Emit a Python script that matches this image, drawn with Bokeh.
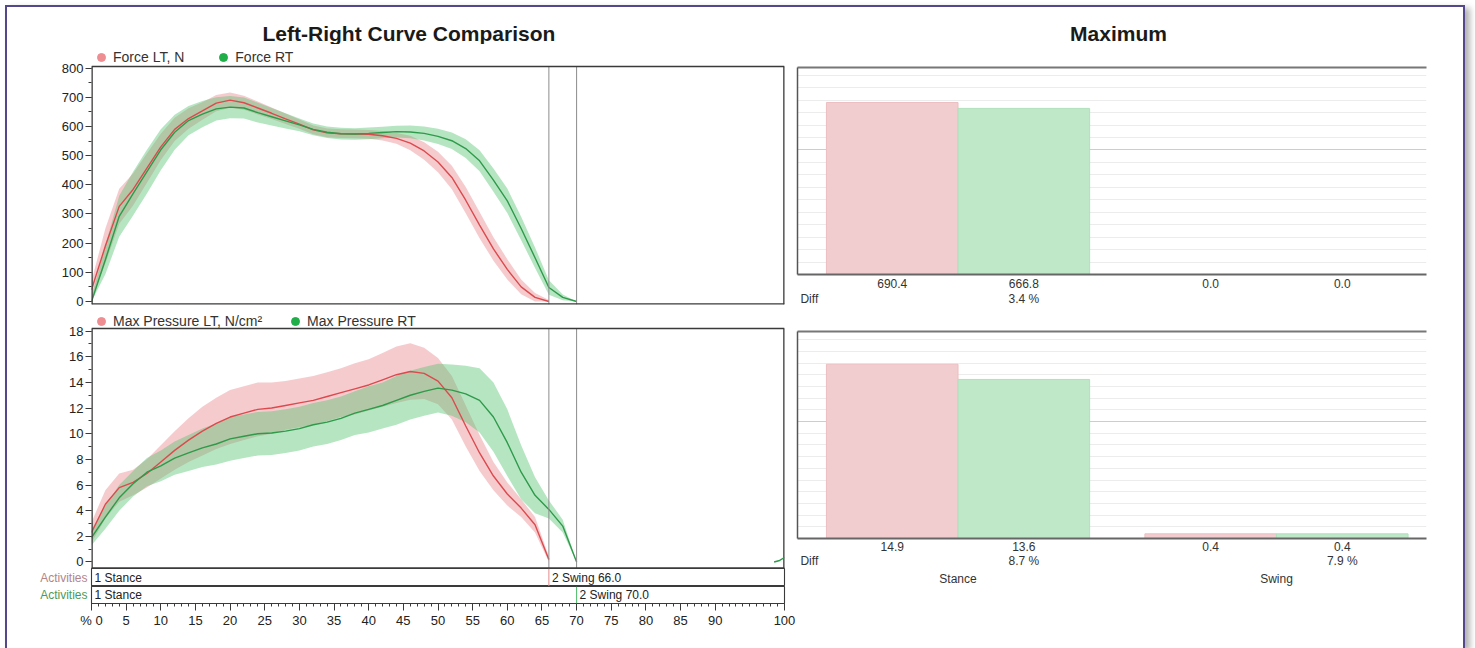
from bokeh.plotting import figure
from bokeh.layouts import row, column
from bokeh.models import Range1d, FixedTicker, Span, Label, Legend, LegendItem, LinearAxis, Grid
from bokeh.embed import file_html
from bokeh.resources import INLINE

FONT = "Liberation Sans"

# ---------------- data ----------------
pct = list(range(0, 71, 2))  # % of step, 0..70

force_lt = [40, 190, 326, 384, 457, 530, 590, 627, 653, 680, 690, 681, 663, 645, 626, 608, 588,
            578, 575, 574, 573, 568, 559, 543, 516, 478, 425, 347, 262, 180, 110, 50, 14, 0]
force_lt_sd = [30, 60, 60, 55, 50, 45, 40, 35, 30, 28, 26, 24, 22, 20, 18, 16, 15, 15, 15, 15, 15,
               16, 18, 25, 30, 35, 40, 45, 45, 40, 35, 25, 15, 5]
force_rt = [0, 143, 292, 370, 445, 520, 580, 620, 642, 660, 666, 663, 647, 633, 619, 605, 590, 580,
            575, 574, 576, 579, 582, 581, 576, 566, 551, 524, 482, 416, 345, 250, 150, 48, 14, 0]
force_rt_sd = [15, 50, 70, 75, 75, 70, 60, 50, 45, 40, 38, 36, 34, 30, 26, 22, 20, 20, 20, 20, 20,
               20, 20, 22, 24, 26, 28, 32, 36, 40, 42, 40, 35, 25, 10, 0]

press_lt = [2.3, 4.5, 5.8, 6.2, 6.9, 7.8, 8.7, 9.5, 10.2, 10.8, 11.3, 11.6, 11.9, 12.0, 12.2, 12.4,
            12.6, 12.9, 13.2, 13.5, 13.8, 14.2, 14.6, 14.85, 14.7, 14.1, 12.8, 10.6, 8.5, 6.7, 5.3,
            4.2, 2.9, 0.2]
press_lt_sd = [0.8, 1.1, 1.1, 1.0, 1.1, 1.3, 1.5, 1.7, 1.9, 2.0, 2.1, 2.1, 2.1, 2.0, 1.9, 1.9, 1.9,
               1.9, 1.9, 2.0, 2.0, 2.1, 2.2, 2.2, 2.0, 1.8, 1.7, 1.6, 1.4, 1.1, 0.9, 0.7, 0.6, 0.2]
press_rt = [1.9, 3.5, 5.0, 6.1, 7.0, 7.5, 8.1, 8.5, 8.9, 9.2, 9.6, 9.8, 10.0, 10.05, 10.2, 10.4,
            10.7, 10.9, 11.2, 11.6, 11.9, 12.2, 12.6, 13.0, 13.3, 13.55, 13.4, 13.1, 12.6, 11.3,
            9.3, 7.0, 5.2, 4.1, 2.8, 0.0]
press_rt_sd = [0.6, 0.9, 1.0, 1.0, 1.1, 1.2, 1.3, 1.4, 1.5, 1.6, 1.7, 1.7, 1.7, 1.7, 1.7, 1.7, 1.7,
               1.7, 1.7, 1.7, 1.8, 1.8, 1.9, 1.9, 1.9, 1.9, 2.0, 2.2, 2.5, 2.7, 2.6, 2.1, 1.4, 0.7,
               0.5, 0.0]
# start of the next right step, visible at the right edge
rt_next_x = [98.5, 99.3, 100.0]
rt_next_p = [0.0, 0.12, 0.35]

lt_phase_names = ["1 Stance", "2 Swing"]
lt_phase_start = [0.0, 66.0]
rt_phase_names = ["1 Stance", "2 Swing"]
rt_phase_start = [0.0, 70.0]

force_ticks = [0, 100, 200, 300, 400, 500, 600, 700, 800]
force_minor = [0, 50, 100, 150, 200, 250, 300, 350, 400, 450, 500, 550, 600, 650, 700, 750, 800]
press_ticks = [0, 2, 4, 6, 8, 10, 12, 14, 16, 18]
press_minor = list(range(0, 19))
x_ticks = [0, 5, 10, 15, 20, 25, 30, 35, 40, 45, 50, 55, 60, 65, 70, 75, 80, 85, 90, 100]
x_minor = list(range(0, 101))

bar_groups = ["Stance", "Swing"]
force_max_lt = [690.4, 0.0]
force_max_rt = [666.8, 0.0]
force_diff = [3.4, None]
press_max_lt = [14.9, 0.4]
press_max_rt = [13.6, 0.4]
press_diff = [8.7, 7.9]

# ---------------- style ----------------
PINK_LINE = "#dc4a4e"
GREEN_LINE = "#2e9a4a"
PINK_BAND = "#ee979d"
GREEN_BAND = "#50c06e"
PINK_DOT = "#ee8d92"
GREEN_DOT = "#1fae48"
PINK_BAR = "#f2cdcf"
GREEN_BAR = "#bfe8c8"
FRAME = "#3a3a3a"
VLINE = "#8c8c8c"
LEFT_W = 789
RIGHT_W = 667


def style_axis(ax):
    ax.major_label_text_font = FONT
    ax.major_label_text_font_size = "13px"
    ax.major_label_text_color = "#222222"
    ax.axis_line_color = FRAME
    ax.major_tick_line_color = FRAME
    ax.minor_tick_line_color = FRAME
    ax.major_tick_in = 0
    ax.minor_tick_in = 0


def make_legend(p, xs, ys, labels, spacing, location):
    r_lt = p.scatter(xs[0], ys[0], marker="circle", size=8, fill_color=PINK_DOT,
                     line_color=PINK_DOT, visible=False)
    r_rt = p.scatter(xs[1], ys[1], marker="circle", size=8, fill_color=GREEN_DOT,
                     line_color=GREEN_DOT, visible=False)
    return Legend(items=[LegendItem(label=labels[0], renderers=[r_lt]),
                         LegendItem(label=labels[1], renderers=[r_rt])],
                  orientation="horizontal", location=location, glyph_width=20,
                  glyph_height=20, label_height=20, label_standoff=2, spacing=spacing, padding=0,
                  margin=0, border_line_color=None, background_fill_alpha=0,
                  inactive_fill_alpha=0, click_policy="none", label_text_font=FONT,
                  label_text_font_size="14px", label_text_color="#333333")


def bands(p, xs, mean, sd, color, alpha):
    lo = [max(0.0, m - s) for m, s in zip(mean, sd)]
    hi = [m + s for m, s in zip(mean, sd)]
    p.varea(x=xs, y1=lo, y2=hi, fill_color=color, fill_alpha=alpha)


def header(width, height, mb_left, text, tx, ty, align):
    h = figure(width=width, height=height, x_range=Range1d(0, 1), y_range=Range1d(0, 1),
               x_axis_location=None, y_axis_location=None, output_backend="svg",
               toolbar_location=None, min_border_left=mb_left, min_border_right=0,
               min_border_top=0, min_border_bottom=0)
    h.grid.visible = False
    h.outline_line_color = None
    h.add_layout(Label(x=tx, y=ty, x_units="screen", y_units="screen", text=text,
                       text_align=align, text_baseline="middle", text_font=FONT,
                       text_font_size="21px", text_font_style="bold", text_color="#1a1a1a"))
    return h


def curve_panel(height, mb_bottom, y_lo, box_top, y_hi, ticks, minor, legend_labels, spacing,
                series):
    """Curve plot whose frame also holds the legend row above the boxed plot area."""
    p = figure(width=LEFT_W, height=height, x_range=Range1d(0, 100), y_range=Range1d(y_lo, y_hi),
               x_axis_location=None, output_backend="svg", toolbar_location=None,
               min_border_left=84, min_border_right=12, min_border_top=0,
               min_border_bottom=mb_bottom)
    p.grid.visible = False
    p.outline_line_color = None
    p.yaxis.ticker = FixedTicker(ticks=ticks, minor_ticks=minor)
    style_axis(p.yaxis[0])
    p.yaxis.axis_line_color = None
    p.yaxis.major_tick_out = 6
    p.yaxis.minor_tick_out = 3
    p.yaxis.major_label_standoff = 2
    (xl, ml, sl), (xr, mr, sr) = series
    bands(p, xl, ml, sl, PINK_BAND, 0.5)
    bands(p, xr, mr, sr, GREEN_BAND, 0.42)
    p.line(xl, ml, line_color=PINK_LINE, line_width=1.4)
    p.line(xr, mr, line_color=GREEN_LINE, line_width=1.4)
    # phase-change lines
    sw = [lt_phase_start[1], rt_phase_start[1]]
    p.segment(x0=sw, y0=[y_lo, y_lo], x1=sw, y1=[box_top, box_top], line_color=VLINE, line_width=1)
    # plot box
    p.add_layout(Span(location=box_top, dimension="width", line_color=FRAME, line_width=1.3))
    p.add_layout(Span(location=y_lo, dimension="width", line_color=FRAME, line_width=2.6))
    p.segment(x0=[0, 100], y0=[y_lo, y_lo], x1=[0, 100], y1=[box_top, box_top],
              line_color=FRAME, line_width=2.6)
    frame_h = height - mb_bottom
    p.add_layout(make_legend(p, (xl, xr), (ml, mr), legend_labels, spacing, (0, frame_h - 23)),
                 "center")
    return p


x_lt = pct[:len(force_lt)]
x_rt = pct[:len(force_rt)]

# ---------------- left header: title ----------------
h1 = header(LEFT_W, 37, 80, "Left-Right Curve Comparison", 171, 11, "left")

# ---------------- top-left: force ----------------
p1 = curve_panel(264, 4, -10.3, 805.3, 880.7, force_ticks, force_minor,
                 ["Force LT, N", "Force RT"], 29,
                 ((x_lt, force_lt, force_lt_sd), (x_rt, force_rt, force_rt_sd)))

# ---------------- bottom-left: max pressure ----------------
p2 = curve_panel(260, 0, -0.507, 18.2, 19.76, press_ticks, press_minor,
                 ["Max Pressure LT, N/cm²", "Max Pressure RT"], 23,
                 ((x_lt, press_lt, press_lt_sd), (x_rt, press_rt, press_rt_sd)))
p2.line(rt_next_x, rt_next_p, line_color=GREEN_LINE, line_width=1.4)


# ---------------- activity rows ----------------
def activity_row(height, mb_bottom, names, starts, label_color, mark_color):
    r = figure(width=LEFT_W, height=height, x_range=Range1d(0, 100), y_range=Range1d(-0.5, 0.5),
               x_axis_location=None, output_backend="svg", toolbar_location=None,
               min_border_left=84, min_border_right=12, min_border_top=0,
               min_border_bottom=mb_bottom)
    r.grid.visible = False
    r.outline_line_color = FRAME
    r.outline_line_width = 1.1
    r.yaxis.ticker = FixedTicker(ticks=[0])
    r.yaxis.major_label_overrides = {0: "Activities"}
    style_axis(r.yaxis[0])
    r.yaxis.major_label_text_font_size = "12px"
    r.yaxis.major_label_text_color = label_color
    r.yaxis.major_tick_out = 0
    r.yaxis.major_tick_line_color = None
    r.yaxis.major_label_standoff = 4
    r.add_layout(Span(location=starts[1], dimension="height", line_color=mark_color, line_width=1))
    for name, start in zip(names, starts):
        txt = name if start == 0 else f"{name} {start:.1f}"
        r.add_layout(Label(x=start, y=0, x_offset=3, text=txt, text_align="left",
                           text_baseline="middle", text_font=FONT, text_font_size="12px",
                           text_color="#222222"))
    return r


r1 = activity_row(18, 0, lt_phase_names, lt_phase_start, "#b58486", "#e58a8c")
r2 = activity_row(62, 45, rt_phase_names, rt_phase_start, "#4b9a5a", "#4cbb66")
r2.add_layout(LinearAxis(), "below")
r2.xaxis.ticker = FixedTicker(ticks=x_ticks, minor_ticks=x_minor)
style_axis(r2.xaxis[0])
r2.xaxis.major_tick_out = 7
r2.xaxis.minor_tick_out = 3
r2.xaxis.major_label_standoff = 2
r2.xaxis.major_label_overrides = {0: "% 0"}

# ---------------- right: maximum bars ----------------
BAR_W = 100
GAP = 42
DIFF_X = -13


def plain_axis(ticks, labels, standoff, line_color=None, line_width=1.0):
    return LinearAxis(ticker=FixedTicker(ticks=ticks),
                      major_label_overrides=dict(zip(ticks, labels)),
                      major_tick_out=0, major_tick_in=0, minor_tick_out=0, minor_tick_in=0,
                      major_tick_line_color=None, minor_tick_line_color=None,
                      major_label_standoff=standoff, axis_line_color=line_color,
                      axis_line_width=line_width, major_label_text_font=FONT,
                      major_label_text_font_size="12px", major_label_text_color="#333333")


def bar_chart(height, y_end, mb_top, mb_bottom, lt_vals, rt_vals, diffs, grid_major, grid_minor,
              standoffs, with_groups):
    p = figure(width=RIGHT_W, height=height, x_range=Range1d(-22, 456), y_range=Range1d(0, y_end),
               x_axis_location=None, y_axis_location=None, output_backend="svg",
               toolbar_location=None, min_border_left=1, min_border_right=37,
               min_border_top=mb_top, min_border_bottom=mb_bottom)
    p.grid.visible = False
    p.outline_line_color = None
    p.add_layout(Grid(dimension=1, ticker=FixedTicker(ticks=grid_major, minor_ticks=grid_minor),
                      grid_line_color="#cdcdcd", minor_grid_line_color="#ececec"))
    p.add_layout(plain_axis([], [], 0, "#555555", 1.5), "left")
    p.add_layout(plain_axis([], [], 0, "#777777", 2.0), "above")
    lt_x = [g * (2 * BAR_W + GAP) + BAR_W // 2 for g in range(len(lt_vals))]
    rt_x = [x + BAR_W for x in lt_x]
    p.vbar(x=lt_x, top=lt_vals, width=BAR_W, fill_color=PINK_BAR, line_color="#ecbfc2", line_width=1)
    p.vbar(x=rt_x, top=rt_vals, width=BAR_W, fill_color=GREEN_BAR, line_color="#b0e0bb", line_width=1)
    val_ticks = lt_x + rt_x
    val_labels = [f"{v:.1f}" for v in lt_vals + rt_vals]
    p.add_layout(plain_axis(val_ticks, val_labels, standoffs[0], "#666666", 1.8), "below")
    d_ticks = [DIFF_X] + [x for x, d in zip(rt_x, diffs) if d is not None]
    d_labels = ["Diff"] + [f"{d:.1f} %" for d in diffs if d is not None]
    p.add_layout(plain_axis(d_ticks, d_labels, standoffs[1]), "below")
    if with_groups:
        g_ticks = [x + BAR_W // 2 for x in lt_x]
        p.add_layout(plain_axis(g_ticks, bar_groups, standoffs[2]), "below")
    return p


h3 = header(RIGHT_W, 58, 0, "Maximum", 321, 32, "center")
p3 = bar_chart(253, 831, 2, 44, force_max_lt, force_max_rt, force_diff, [500],
               list(range(0, 832, 50)), (4, 1), False)
p4 = bar_chart(330, 17.7, 13, 110, press_max_lt, press_max_rt, press_diff, [10],
               list(range(0, 18)), (3, 0, 1), True)

border = "2px solid #54478c"
layout = row(column(h1, p1, p2, r1, r2), column(h3, p3, p4), margin=(5, 0, 0, 5),
             styles={"border-top": border, "border-left": border, "border-right": border,
                     "box-shadow": "5px 3px 6px rgba(0,0,0,0.30)", "background-color": "white"})

open("out.html", "w").write(file_html(layout, INLINE))
